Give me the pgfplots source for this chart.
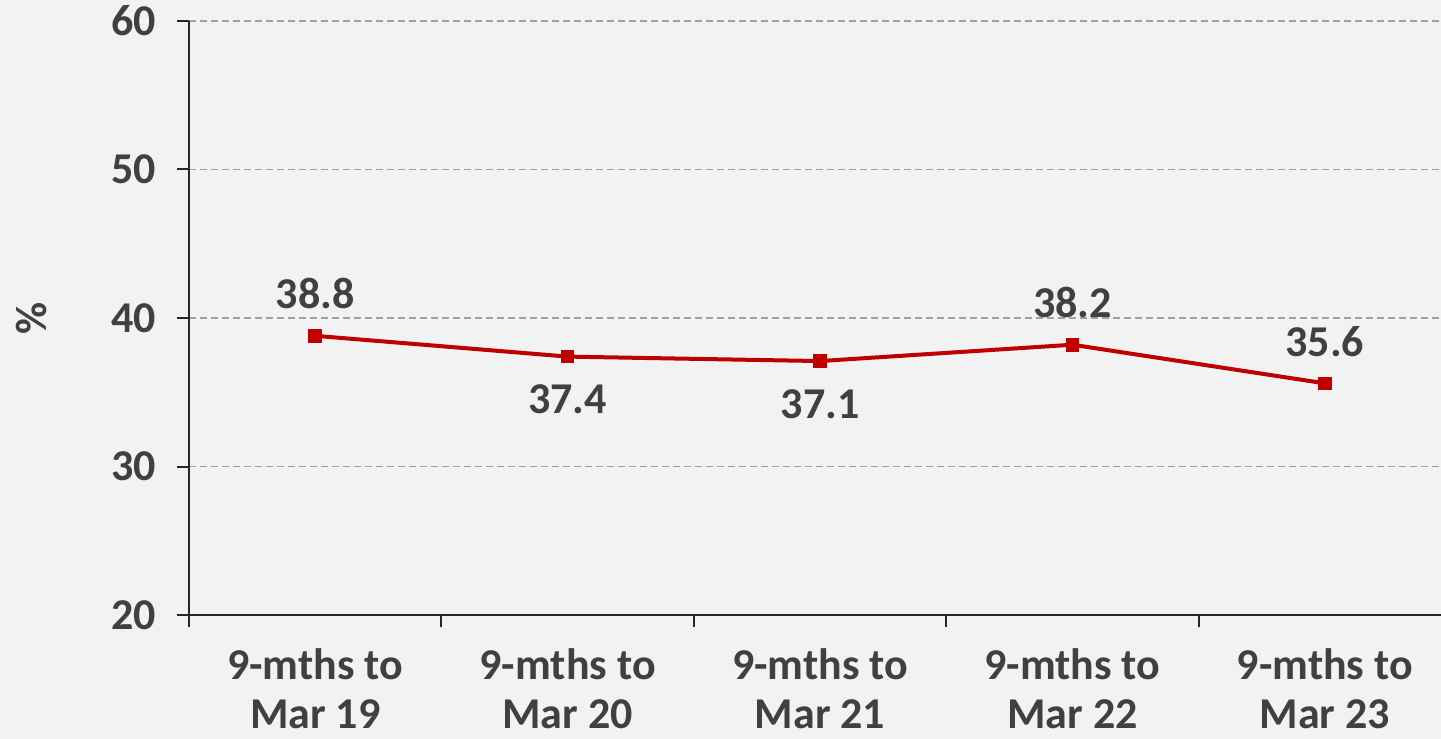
\documentclass[border=0pt]{standalone}
\usepackage{pgfplots}
\pgfplotsset{compat=1.18}
\usepackage{fontspec}
\setmainfont{Carlito}
\definecolor{bg}{HTML}{F2F2F2}
\definecolor{txt}{HTML}{404040}
\definecolor{linered}{HTML}{C00000}
\definecolor{gridc}{HTML}{A0A0A0}
\begin{document}
\begin{tikzpicture}
    % page = 1441x739 px at 0.5pt per px; axis box from (0,0) to (626pt,297pt)
    \fill[bg] (-94.5pt,-62pt) rectangle (626pt,307.5pt);
    \useasboundingbox (-94.5pt,-62pt) rectangle (626pt,307.5pt);
    \begin{axis}[
        scale only axis,
        width=626pt, height=297pt,
        axis lines=left,
        axis line style={-, line width=1pt, color=black!85},
        xmin=-0.5, xmax=4.46,
        ymin=20, ymax=60,
        ytick={20,30,40,50,60},
        xtick={0,1,2,3,4},
        xticklabels={{9-mths to\\Mar 19},{9-mths to\\Mar 20},{9-mths to\\Mar 21},{9-mths to\\Mar 22},{9-mths to\\Mar 23}},
        minor xtick={-0.5,0.5,1.5,2.5,3.5},
        major x tick style={draw=none},
        minor x tick style={line width=1pt, color=black!85},
        ytick style={line width=1pt, color=black!85},
        tick align=outside,
        major tick length=6pt,
        minor tick length=6pt,
        ymajorgrids,
        grid style={dashed, gridc, line width=0.7pt, dash pattern=on 3.5pt off 2pt},
        /pgf/number format/assume math mode=true,
        tick label style={font=\fontsize{22}{24.5}\selectfont\bfseries, text=txt},
        yticklabel style={xshift=-7pt},
        xticklabel style={align=center, yshift=-7.5pt},
        ylabel={\%},
        every axis y label/.style={at={(axis description cs:0,0.5)}, xshift=-78.5pt, rotate=90, anchor=center, font=\fontsize{22}{25}\selectfont\bfseries, text=txt},
        clip=false,
    ]
        \addplot[linered, line width=2pt, mark=square*, mark size=2.4pt, mark options={solid}]
            coordinates {(0,38.8) (1,37.4) (2,37.1) (3,38.2) (4,35.6)};
        % labels above the line
        \addplot[draw=none, mark=none, nodes near coords,
            point meta=explicit symbolic,
            nodes near coords style={font=\fontsize{22}{25}\selectfont\bfseries, text=txt, anchor=center, yshift=21pt}]
            coordinates {(0,38.8) [38.8] (3,38.2) [38.2] (4,35.6) [35.6]};
        % labels below the line
        \addplot[draw=none, mark=none, nodes near coords,
            point meta=explicit symbolic,
            nodes near coords style={font=\fontsize{22}{25}\selectfont\bfseries, text=txt, anchor=center, yshift=-21.5pt}]
            coordinates {(1,37.4) [37.4] (2,37.1) [37.1]};
    \end{axis}
\end{tikzpicture}
\end{document}
